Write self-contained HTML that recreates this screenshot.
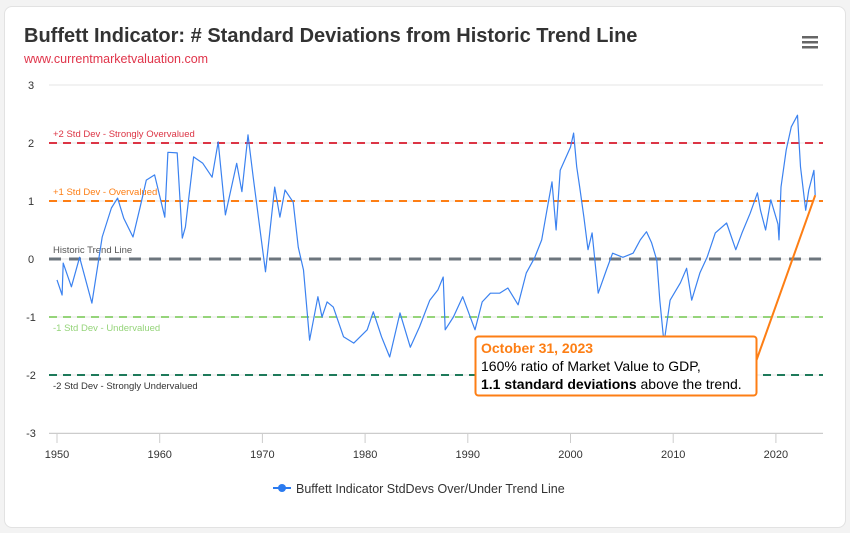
<!DOCTYPE html>
<html><head><meta charset="utf-8">
<style>
body{margin:0;background:#f3f3f3;font-family:"Liberation Sans",sans-serif;}
#card{position:absolute;left:4px;top:6px;width:840px;height:520px;background:#fff;border:1px solid #e2e2e2;border-radius:8px;}
svg{position:absolute;left:0;top:0;}
</style></head><body>
<div id="card"></div>
<svg id="chart" width="850" height="533">
<text x="24" y="42" font-size="20" font-weight="bold" fill="#333">Buffett Indicator: # Standard Deviations from Historic Trend Line</text>
<text x="24" y="63" font-size="12.5" fill="#e0344a">www.currentmarketvaluation.com</text>
<g><rect x="802" y="36" width="16" height="2.5" fill="#666"/><rect x="802" y="41" width="16" height="2.5" fill="#666"/><rect x="802" y="46" width="16" height="2.5" fill="#666"/></g>
<g id="grid"></g><g id="bands"></g><g id="xaxis"></g><g id="series"></g><g id="annot"></g>
<g>
<line x1="273" y1="488" x2="291" y2="488" stroke="#2b7bf0" stroke-width="2"/><circle cx="282" cy="488" r="4" fill="#2b7bf0"/>
<text x="296" y="493" font-size="12.5" fill="#333">Buffett Indicator StdDevs Over/Under Trend Line</text></g>
</svg>
<script>
const yTicks=[3,2,1,0,-1,-2,-3];
const xTicks=[1950,1960,1970,1980,1990,2000,2010,2020];
const bandValues=[2,1,0,-1,-2];
const bandLabels=["+2 Std Dev - Strongly Overvalued","+1 Std Dev - Overvalued","Historic Trend Line","-1 Std Dev - Undervalued","-2 Std Dev - Strongly Undervalued"];
const bandColors=["#dc3545","#fd7e14","#6c757d","#95d47a","#1e7a5a"];
const years=[1950,1950.5,1950.6,1951.4,1952.2,1953.4,1954.4,1955.3,1955.9,1956.5,1957.4,1958.1,1958.7,1959.5,1960.5,1960.8,1961.7,1962.2,1962.5,1963.3,1964.2,1965.1,1965.7,1966.4,1967.5,1968,1968.6,1969.1,1970.3,1971.2,1971.7,1972.2,1973,1973.5,1974,1974.6,1975.4,1975.8,1976.3,1976.9,1977.9,1978.9,1980.2,1980.8,1981.6,1982.4,1983.4,1984.4,1985.3,1986.3,1987.1,1987.6,1987.8,1988.6,1989.5,1990.7,1991.4,1992.2,1993.1,1993.9,1994.9,1995.7,1996.5,1997.2,1997.7,1998.2,1998.6,1999,2000,2000.3,2000.6,2000.9,2001.3,2001.7,2002.1,2002.7,2003.5,2004.1,2005.1,2006.1,2006.8,2007.4,2007.9,2008.4,2008.7,2009.1,2009.7,2010.7,2011.3,2011.8,2012.6,2013.3,2014.1,2015.2,2016.1,2016.7,2017.5,2018.2,2018.5,2019,2019.5,2020.2,2020.3,2020.5,2021,2021.5,2022.1,2022.4,2022.9,2023.2,2023.7,2023.83];
const values=[-0.36,-0.62,-0.07,-0.48,0.03,-0.76,0.38,0.88,1.05,0.7,0.38,0.9,1.36,1.45,0.72,1.84,1.83,0.36,0.55,1.76,1.65,1.41,2.02,0.76,1.65,1.16,2.14,1.41,-0.22,1.24,0.72,1.19,0.98,0.2,-0.19,-1.4,-0.65,-1.0,-0.74,-0.83,-1.34,-1.45,-1.22,-0.91,-1.34,-1.69,-0.93,-1.52,-1.17,-0.71,-0.53,-0.31,-1.22,-1.0,-0.65,-1.22,-0.74,-0.59,-0.59,-0.5,-0.79,-0.24,0.02,0.33,0.84,1.33,0.5,1.53,1.93,2.17,1.59,1.24,0.72,0.16,0.45,-0.59,-0.19,0.1,0.03,0.1,0.33,0.47,0.28,-0.02,-0.71,-1.45,-0.71,-0.41,-0.16,-0.71,-0.24,0.03,0.45,0.62,0.16,0.45,0.79,1.14,0.84,0.5,1.02,0.6,0.33,1.24,1.88,2.28,2.48,1.59,0.84,1.19,1.53,1.1];
const X=y=>57+(y-1950)*10.27;
const Y=v=>259-v*58;
const NS="http://www.w3.org/2000/svg";
function mk(tag,attrs,parent,txt){const e=document.createElementNS(NS,tag);for(const k in attrs)e.setAttribute(k,attrs[k]);if(txt!==undefined)e.textContent=txt;document.getElementById(parent).appendChild(e);return e;}
yTicks.forEach(t=>{
 const l=mk('line',{x1:49,x2:823,y1:Y(t),y2:Y(t),stroke:'#e6e6e6','stroke-width':1},'grid');
 
 
 const tx=mk('text',{x:31,y:Y(t)+4,'font-size':11,fill:'#333','text-anchor':'middle'},'grid',String(t));
 
 
});
mk('line',{x1:49,x2:823,y1:433.5,y2:433.5,stroke:'#ccc'},'xaxis');
xTicks.forEach(t=>{
 mk('line',{x1:X(t),x2:X(t),y1:433,y2:443,stroke:'#ccc'},'xaxis');
 const tx=mk('text',{x:X(t),y:458,'font-size':11,fill:'#333','text-anchor':'middle'},'xaxis',String(t));
 
 
});
bandValues.forEach((v,i)=>{
 const w=(i==2)?3:2;
 const l=mk('line',{x1:49,x2:823,y1:Y(v),y2:Y(v),stroke:bandColors[i],'stroke-width':w,'stroke-dasharray':(i==2)?'12,8':'8,6'},'bands');
 
 
 const ly=(v<0)?Y(v)+14:Y(v)-6;
 const tx=mk('text',{x:53,y:ly,'font-size':9.5,fill:(i==2)?'#555':(i==4?'#333':bandColors[i])},'bands',bandLabels[i]);
 
 
});
const d=years.map((y,i)=>(i?'L':'M')+X(y).toFixed(1)+','+Y(values[i]).toFixed(1)).join(' ');
const p=mk('path',{d:d,fill:'none',stroke:'#3b82f0','stroke-width':1.2,'stroke-linejoin':'round'},'series');


const lastY=years[years.length-1],lastV=values[values.length-1];
const cl=mk('line',{x1:753,y1:370,x2:X(lastY),y2:Y(lastV),stroke:'#fd7e14','stroke-width':2},'annot');


const box=mk('rect',{x:475.5,y:336.5,width:281,height:59,rx:3,fill:'#fff',stroke:'#fd7e14','stroke-width':2},'annot');


mk('text',{x:481,y:353,'font-size':14,'font-weight':'bold',fill:'#fd7e14'},'annot','October 31, 2023');
mk('text',{x:481,y:371,'font-size':14,fill:'#000'},'annot','160% ratio of Market Value to GDP,');
const t3=mk('text',{x:481,y:389,'font-size':14,fill:'#000'},'annot');
t3.innerHTML='<tspan font-weight="bold">1.1 standard deviations</tspan> above the trend.';
</script>
</body></html>
